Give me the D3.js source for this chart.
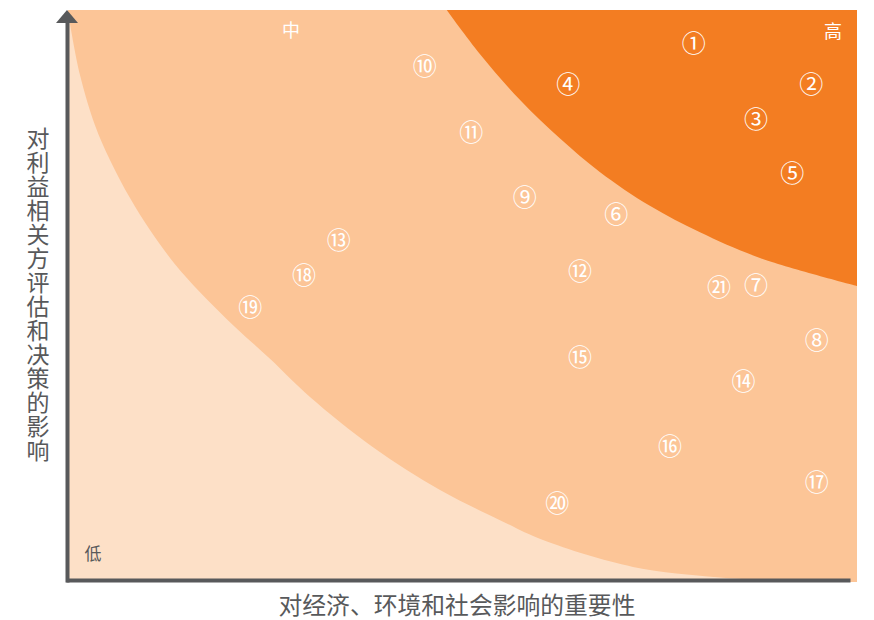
<!DOCTYPE html>
<html><head><meta charset="utf-8">
<script src="https://cdn.jsdelivr.net/npm/d3@7/dist/d3.min.js"></script>
<style>
html,body{margin:0;padding:0;background:#fff;}
svg{display:block;font-family:"Noto Sans CJK SC","Noto Sans",sans-serif;}
</style></head>
<body>
<svg id="chart" width="874" height="620"></svg>
<script>
// Issue labels (circled numbers) and their positions (0-100 scale)
const labels = ["①","②","③","④","⑤","⑥","⑦","⑧","⑨","⑩","⑪","⑫","⑬","⑭","⑮","⑯","⑰","⑱","⑲","⑳","㉑"];
const xValues = [79.3,94.2,87.2,63.4,91.8,69.5,87.2,94.9,57.9,45.2,51.1,64.9,34.3,85.6,64.9,76.3,94.9,29.9,23.1,62.0,82.5];
const yValues = [94.4,87.2,81.2,87.2,71.6,64.4,52.1,42.3,67.4,90.4,78.8,54.4,60.0,35.1,39.3,23.7,17.4,53.7,48.1,13.7,51.6];
// Zone boundaries
const highX = [48.0,52.2,57.3,62.4,67.4,73.8,80.1,87.7,100];
const highY = [100,92.3,84.2,77.4,71.6,65.6,61.0,56.5,51.6];
const lowX = [0.13,1.52,3.42,5.32,7.86,10.39,13.56,16.73,21.17,25.60,30.67,38.66,47.15,54.75,60.20,71.61,82.26,88.97];
const lowY = [98.6,88.6,79.8,73.7,67.0,61.4,55.4,50.5,44.4,38.8,32.1,23.3,15.8,10.5,7.0,2.3,0.5,0];
const zoneLabels = ["低","中","高"];
const xTitle = "对经济、环境和社会影响的重要性";
const yTitle = "对利益相关方评估和决策的影响";

const svg = d3.select("#chart");
const x = d3.scaleLinear().domain([0,100]).range([68,857]);
const y = d3.scaleLinear().domain([0,100]).range([580,10]);

const C_DARK = "#f37d22", C_MID = "#fcc597", C_LIGHT = "#fde0c7", C_AXIS = "#58595b", C_TEXT = "#58595b";

// medium background
svg.append("rect").attr("x", x(0)).attr("y", y(100))
  .attr("width", x(100)-x(0)).attr("height", y(0)-y(100)+2).attr("fill", C_MID);

const line = d3.line().x(d=>x(d[0])).y(d=>y(d[1])).curve(d3.curveCatmullRom.alpha(0.5));
const lowPts = lowX.map((v,i)=>[v,lowY[i]]);
svg.append("path").attr("d", line(lowPts) + `L${x(0)},${y(0)+2}L${x(0)},${y(lowY[0])}Z`).attr("fill", C_LIGHT);
const highPts = highX.map((v,i)=>[v,highY[i]]);
svg.append("path").attr("d", line(highPts) + `L${x(100)},${y(100)}Z`).attr("fill", C_DARK);

// axes
const gx = svg.append("g").attr("transform", `translate(0,${y(0)})`)
  .call(d3.axisBottom(d3.scaleLinear().domain([0,100]).range([66,850])).tickValues([]).tickSizeOuter(0));
gx.select(".domain").attr("stroke", C_AXIS).attr("stroke-width", 4);
const gy = svg.append("g").attr("transform", `translate(${x(0)-1},0)`)
  .call(d3.axisLeft(d3.scaleLinear().domain([0,100]).range([582,20])).tickValues([]).tickSizeOuter(0));
gy.select(".domain").attr("stroke", C_AXIS).attr("stroke-width", 4);
svg.append("path").attr("d", `M${x(0)-1},${y(100)}L${x(0)-12},${y(100)+13}L${x(0)+10},${y(100)+13}Z`).attr("fill", C_AXIS);

// zone labels
svg.append("text").attr("x", 93).attr("y", 560).attr("text-anchor","middle").attr("font-size",17).attr("fill",C_TEXT).text(zoneLabels[0]);
svg.append("text").attr("x", 291).attr("y", 37).attr("text-anchor","middle").attr("font-size",18).attr("fill","#fff").text(zoneLabels[1]);
svg.append("text").attr("x", 833).attr("y", 38).attr("text-anchor","middle").attr("font-size",18).attr("fill","#fff").text(zoneLabels[2]);

// titles
svg.append("text").attr("x", 457).attr("y", 614).attr("text-anchor","middle").attr("font-size",23.8).attr("fill",C_TEXT).text(xTitle);
svg.append("text").attr("x", 38).attr("y", 295).attr("text-anchor","middle")
  .attr("writing-mode","vertical-rl").style("text-orientation","upright")
  .attr("font-size",23).attr("letter-spacing",1).attr("fill",C_TEXT).text(yTitle);

// points
svg.append("g").selectAll("text").data(labels).join("text")
  .attr("x",(d,i)=>x(xValues[i])).attr("y",(d,i)=>y(yValues[i]))
  .attr("text-anchor","middle").attr("dominant-baseline","central")
  .attr("font-size",24).attr("fill","#fff").text(d=>d);
</script>
</body></html>
